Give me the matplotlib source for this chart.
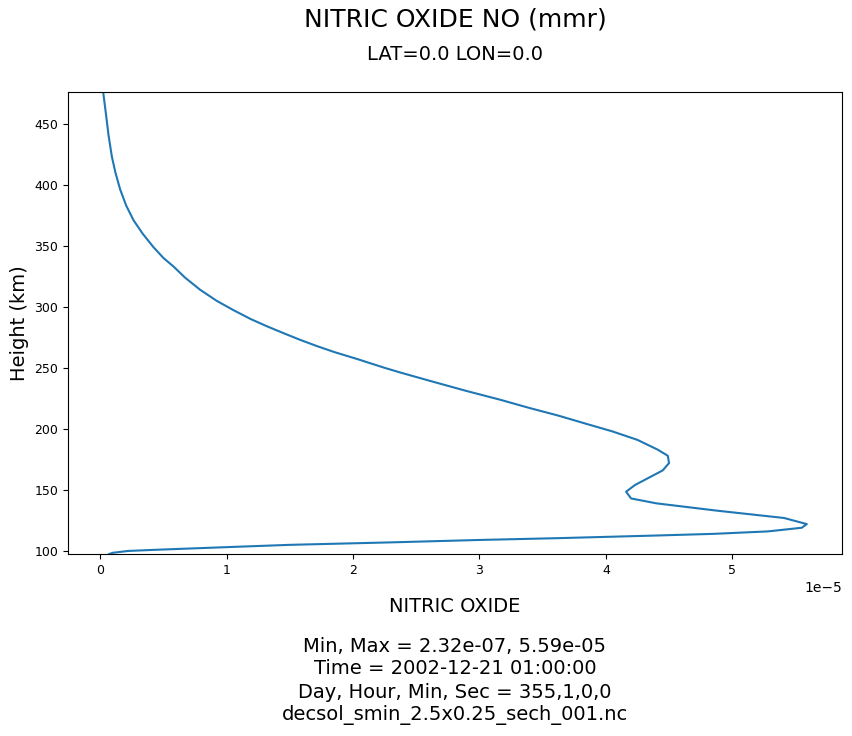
import matplotlib
matplotlib.use("Agg")
import matplotlib.pyplot as plt
import numpy as np

heights = [97.5, 98.5, 100, 101, 102, 103.5, 105, 107, 109, 110.5, 112.5, 114, 116, 119,
           122, 124.5, 127, 133, 139, 143, 148.5, 154, 160, 166, 172, 178, 183, 191, 198,
           204, 211, 217, 224, 231, 239, 246, 250, 257, 263, 268, 273, 278, 284, 290, 297.5,
           305, 314, 324, 333, 340, 349, 360, 371, 383, 396, 410, 423, 441, 458, 476]
no_mmr_e5 = [0.07, 0.10, 0.22, 0.45, 0.71, 1.1, 1.5, 2.29, 3.0, 3.63, 4.35, 4.85, 5.28, 5.55,
             5.59, 5.50, 5.41, 4.88, 4.40, 4.20, 4.16, 4.23, 4.34, 4.45, 4.50, 4.49, 4.41, 4.25, 4.05,
             3.85, 3.62, 3.40, 3.16, 2.90, 2.62, 2.38, 2.25, 2.04, 1.85, 1.71, 1.58, 1.46, 1.32, 1.19, 1.05,
             0.92, 0.79, 0.67, 0.58, 0.50, 0.42, 0.335, 0.263, 0.205, 0.158, 0.12, 0.092, 0.065, 0.045, 0.0232]

values = np.array(no_mmr_e5) * 1e-5

fig = plt.figure(figsize=(8.53, 7.36), dpi=100)
ax = fig.add_axes([68/853, 1-554/736, (842-68)/853, (554-92)/736])
ax.plot(values, heights, color="#1f77b4", lw=1.5)
ax.set_ylim(min(heights), max(heights))
ax.tick_params(labelsize=9)
ax.set_ylabel("Height (km)", fontsize=14)

fig.text(455/853, 1-20/736, "NITRIC OXIDE NO (mmr)", ha="center", va="center", fontsize=18)
fig.text(455/853, 1-55/736, "LAT=0.0 LON=0.0", ha="center", va="center", fontsize=14)
fig.text(455/853, 1-606/736, "NITRIC OXIDE", ha="center", va="center", fontsize=14)
lines = ["Min, Max = 2.32e-07, 5.59e-05",
         "Time = 2002-12-21 01:00:00",
         "Day, Hour, Min, Sec = 355,1,0,0",
         "decsol_smin_2.5x0.25_sech_001.nc"]
for i, t in enumerate(lines):
    fig.text(455/853, 1-(646+23*i)/736, t, ha="center", va="center", fontsize=14)

fig.savefig("out.png", dpi=100)
